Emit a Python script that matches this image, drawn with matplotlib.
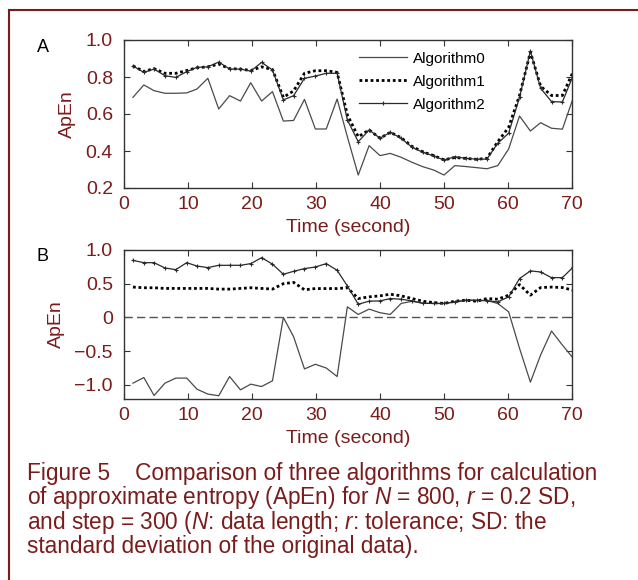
import numpy as np
import matplotlib
matplotlib.use('Agg')
import matplotlib.pyplot as plt
from matplotlib.lines import Line2D

plt.rcParams['font.family'] = ['Liberation Sans', 'DejaVu Sans']
plt.rcParams['mathtext.fontset'] = 'custom'
plt.rcParams['mathtext.rm'] = 'Liberation Sans'
plt.rcParams['mathtext.it'] = 'Liberation Sans:italic'

maroon = '#7a1c1c'

# time of each window (second)
time = [1.4, 3.1, 4.7, 6.4, 8.1, 9.8, 11.4, 13.1, 14.8, 16.5, 18.2, 19.8, 21.5, 23.2,
        24.9, 26.5, 28.2, 29.9, 31.6, 33.3, 34.9, 36.6, 38.3, 40.0, 41.6, 43.3, 45.0, 46.7,
        48.4, 50.0, 51.7, 53.4, 55.1, 56.7, 58.4, 60.1, 61.8, 63.5, 65.1, 66.8, 68.5, 70.2]

# panel A
a_alg0 = [0.69, 0.757, 0.726, 0.712, 0.712, 0.714, 0.735, 0.793, 0.627, 0.699, 0.670, 0.769, 0.670, 0.721,
          0.562, 0.565, 0.679, 0.519, 0.519, 0.681, 0.477, 0.270, 0.429, 0.375, 0.387, 0.366, 0.339, 0.315,
          0.297, 0.270, 0.321, 0.316, 0.310, 0.304, 0.321, 0.411, 0.589, 0.508, 0.553, 0.523, 0.518, 0.688]
a_alg1 = [0.86, 0.83, 0.845, 0.82, 0.82, 0.835, 0.85, 0.855, 0.87, 0.845, 0.843, 0.835, 0.855, 0.84,
          0.69, 0.725, 0.82, 0.834, 0.834, 0.825, 0.595, 0.477, 0.514, 0.469, 0.501, 0.472, 0.425, 0.395,
          0.375, 0.352, 0.365, 0.36, 0.355, 0.36, 0.45, 0.528, 0.70, 0.935, 0.75, 0.70, 0.70, 0.83]
a_alg2 = [0.86, 0.825, 0.843, 0.807, 0.798, 0.829, 0.852, 0.855, 0.881, 0.843, 0.843, 0.832, 0.879, 0.838,
          0.676, 0.699, 0.793, 0.805, 0.82, 0.82, 0.568, 0.45, 0.514, 0.469, 0.501, 0.469, 0.42, 0.393,
          0.373, 0.351, 0.369, 0.36, 0.356, 0.356, 0.442, 0.496, 0.69, 0.94, 0.739, 0.667, 0.665, 0.81]

# panel B
b_alg0 = [-0.975, -0.892, -1.158, -0.975, -0.90, -0.90, -1.064, -1.137, -1.162, -0.877, -1.074, -0.99, -1.025, -0.94,
          0.0, -0.286, -0.764, -0.695, -0.75, -0.877, 0.157, 0.044, 0.123, 0.07, 0.044, 0.207, 0.24, 0.21,
          0.207, 0.207, 0.23, 0.255, 0.25, 0.25, 0.207, 0.083, -0.458, -0.96, -0.557, -0.202, -0.41, -0.606]
b_alg1 = [0.45, 0.44, 0.44, 0.43, 0.43, 0.43, 0.43, 0.43, 0.42, 0.42, 0.43, 0.44, 0.43, 0.42,
          0.50, 0.52, 0.41, 0.428, 0.428, 0.428, 0.44, 0.28, 0.305, 0.32, 0.344, 0.32, 0.28, 0.24,
          0.22, 0.207, 0.24, 0.255, 0.24, 0.28, 0.27, 0.33, 0.487, 0.33, 0.443, 0.45, 0.443, 0.403]
b_alg2 = [0.846, 0.812, 0.812, 0.733, 0.709, 0.812, 0.762, 0.739, 0.773, 0.773, 0.773, 0.798, 0.886, 0.79,
          0.64, 0.684, 0.724, 0.748, 0.798, 0.699, 0.467, 0.196, 0.241, 0.245, 0.28, 0.27, 0.245, 0.21,
          0.207, 0.207, 0.23, 0.255, 0.255, 0.25, 0.23, 0.305, 0.576, 0.69, 0.674, 0.59, 0.59, 0.748]

labels = ['Algorithm0', 'Algorithm1', 'Algorithm2']
xticks = [0, 10, 20, 30, 40, 50, 60, 70]


def style_axes(ax, yticks, ylim):
    ax.set_xlim(0, 70)
    ax.set_ylim(*ylim)
    ax.set_xticks(xticks)
    ax.set_yticks(yticks)
    ax.set_yticklabels(['0' if v == 0 else f'{v:.1f}'.replace('-', '\u2212') for v in yticks])
    ax.tick_params(direction='in', top=True, right=True, length=4, width=0.8,
                   labelsize=14, labelcolor=maroon, color='#333333')
    ax.tick_params(axis='y', pad=8)
    ax.tick_params(axis='x', pad=6)
    for s in ax.spines.values():
        s.set_color('#333333')
        s.set_linewidth(1.0)
    ax.set_ylabel('ApEn', color=maroon, fontsize=14, labelpad=7)
    ax.set_xlabel('Time (second)', color=maroon, fontsize=14, labelpad=4)


def draw(ax, y0, y1, y2):
    ax.plot(time, y0, color='#4a4a4a', lw=0.9, label=labels[0])
    ax.plot(time, y1, color='black', lw=2.0, ls=(0, (1, 1)), label=labels[1])
    ax.plot(time, y2, color='#2a2a2a', lw=0.9, marker='+', ms=3, mew=0.8, label=labels[2])


fig = plt.figure(figsize=(6.38, 5.80), dpi=100)

axA = fig.add_axes([124 / 638, 1 - 188 / 580, 448 / 638, 148 / 580])
draw(axA, a_alg0, a_alg1, a_alg2)
style_axes(axA, [0.2, 0.4, 0.6, 0.8, 1.0], (0.2, 1.0))
axA.legend(loc='upper left', bbox_to_anchor=(0.525, 0.92), frameon=False, fontsize=11,
           handlelength=3.1, handletextpad=0.4, labelspacing=0.58, borderaxespad=0, borderpad=0)

axB = fig.add_axes([124 / 638, 1 - 399 / 580, 448 / 638, 149 / 580])
axB.axhline(0, color='#555555', lw=1.0, ls=(0, (6, 3)))
draw(axB, b_alg0, b_alg1, b_alg2)
style_axes(axB, [-1.0, -0.5, 0, 0.5, 1.0], (-1.21, 1.0))

fig.text(37 / 638, 1 - 47 / 580, 'A', fontsize=13, color='black', ha='left', va='center')
fig.text(37 / 638, 1 - 257 / 580, 'B', fontsize=13, color='black', ha='left', va='center')

# caption
cap = ['Figure 5    Comparison of three algorithms for calculation',
       r'of approximate entropy (ApEn) for $\mathit{N}$ = 800, $\mathit{r}$ = 0.2 SD,',
       r'and step = 300 ($\mathit{N}$: data length; $\mathit{r}$: tolerance; SD: the',
       'standard deviation of the original data).']
for i, line in enumerate(cap):
    fig.text(27 / 638, 1 - (480 + 24.4 * i) / 580, line, fontsize=16.3, color=maroon,
             ha='left', va='baseline')

# frame around figure
fig.add_artist(Line2D([8.5 / 638, 8.5 / 638], [0, 1 - 10 / 580], transform=fig.transFigure,
                      color=maroon, lw=1.5))
fig.add_artist(Line2D([8.5 / 638, 1], [1 - 10 / 580, 1 - 10 / 580], transform=fig.transFigure,
                      color=maroon, lw=1.5))

fig.savefig('out.png', dpi=100)
